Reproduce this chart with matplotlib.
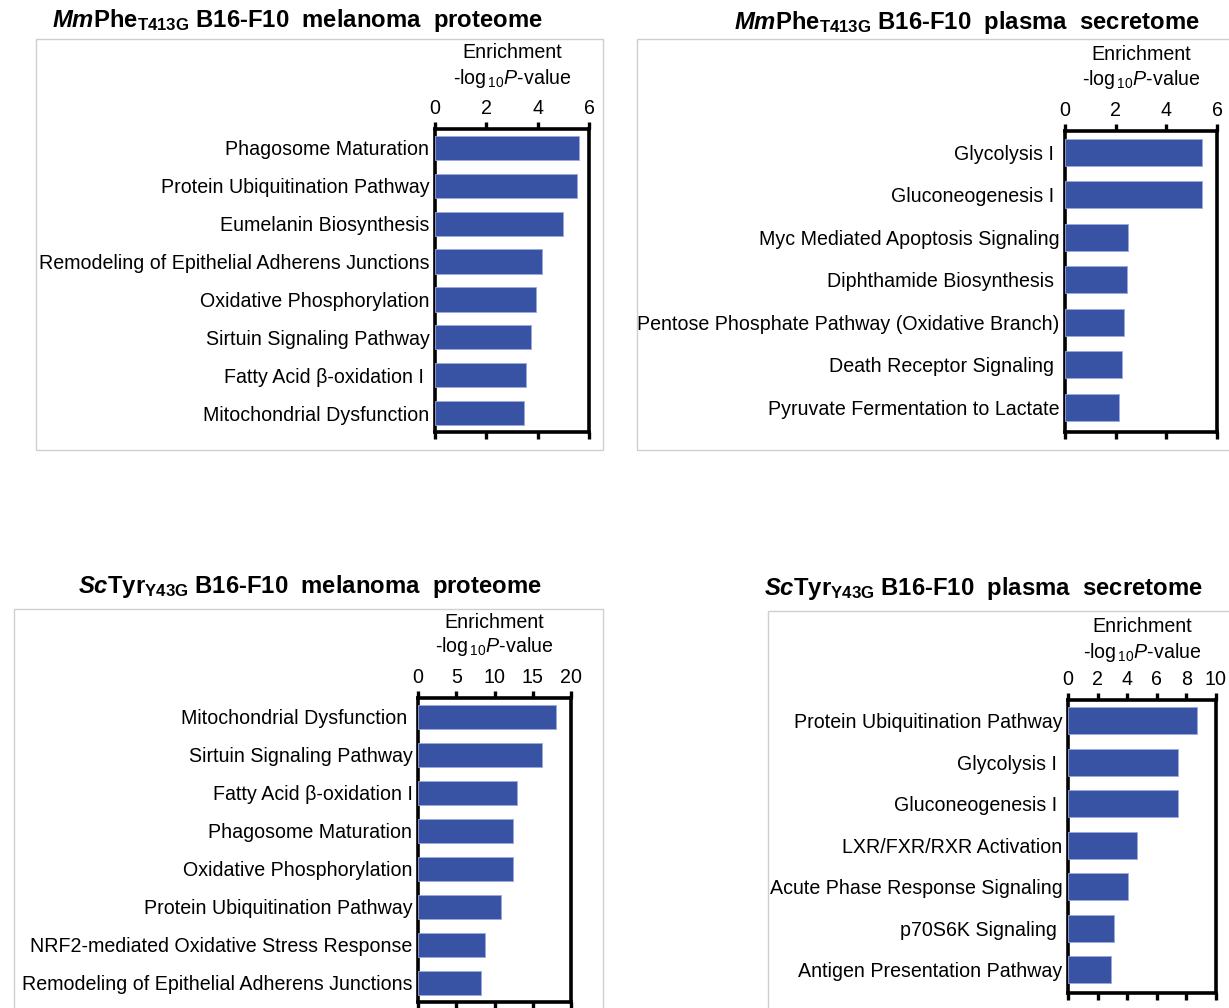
import matplotlib
matplotlib.use("Agg")
import matplotlib.pyplot as plt
from matplotlib.patches import Rectangle

plt.rcParams["font.family"] = ["Liberation Sans", "DejaVu Sans"]
plt.rcParams["mathtext.fontset"] = "custom"
plt.rcParams["mathtext.rm"] = "Liberation Sans"
plt.rcParams["mathtext.it"] = "Liberation Sans:italic"
plt.rcParams["mathtext.bf"] = "Liberation Sans:bold"
plt.rcParams["mathtext.bfit"] = "Liberation Sans:bold:italic"

# ---- data ----
mm_proteome_terms = [
    "Phagosome Maturation",
    "Protein Ubiquitination Pathway",
    "Eumelanin Biosynthesis",
    "Remodeling of Epithelial Adherens Junctions",
    "Oxidative Phosphorylation",
    "Sirtuin Signaling Pathway",
    "Fatty Acid \u03b2-oxidation I ",
    "Mitochondrial Dysfunction",
]
mm_proteome_vals = [5.60, 5.54, 5.00, 4.18, 3.94, 3.74, 3.55, 3.48]

mm_secretome_terms = [
    "Glycolysis I ",
    "Gluconeogenesis I ",
    "Myc Mediated Apoptosis Signaling",
    "Diphthamide Biosynthesis ",
    "Pentose Phosphate Pathway (Oxidative Branch)",
    "Death Receptor Signaling ",
    "Pyruvate Fermentation to Lactate",
]
mm_secretome_vals = [5.40, 5.40, 2.50, 2.44, 2.31, 2.24, 2.15]

sc_proteome_terms = [
    "Mitochondrial Dysfunction ",
    "Sirtuin Signaling Pathway",
    "Fatty Acid \u03b2-oxidation I",
    "Phagosome Maturation",
    "Oxidative Phosphorylation",
    "Protein Ubiquitination Pathway",
    "NRF2-mediated Oxidative Stress Response",
    "Remodeling of Epithelial Adherens Junctions",
]
sc_proteome_vals = [18.1, 16.2, 12.9, 12.4, 12.4, 10.9, 8.8, 8.25]

sc_secretome_terms = [
    "Protein Ubiquitination Pathway",
    "Glycolysis I ",
    "Gluconeogenesis I ",
    "LXR/FXR/RXR Activation",
    "Acute Phase Response Signaling",
    "p70S6K Signaling ",
    "Antigen Presentation Pathway",
]
sc_secretome_vals = [8.69, 7.40, 7.40, 4.63, 4.06, 3.09, 2.89]

W, H = 1229, 1008
BAR_COLOR = "#3953A4"
LABEL_SIZE = 14.1
TITLE_SIZE = 17.2
fig = plt.figure(figsize=(W / 100, H / 100), dpi=100)


def px_axes(left, top, right, bottom):
    return fig.add_axes([left / W, 1 - bottom / H, (right - left) / W, (bottom - top) / H])


def frame(left, top, right, bottom):
    fig.patches.append(Rectangle((left / W, 1 - bottom / H), (right - left) / W, (bottom - top) / H,
                                 transform=fig.transFigure, fill=False,
                                 edgecolor="#cfcfcf", linewidth=1.0, zorder=0))


def panel(box, terms, vals, xmax, xticks, ylim_bottom, title, title_xy, label_y):
    left, top, right, bottom = box
    ax = px_axes(left, top, right, bottom)
    ax.barh(range(len(terms)), vals, height=0.64, color=BAR_COLOR,
            edgecolor="#9aa8dc", linewidth=0.6, zorder=3)
    ax.set_xlim(0, xmax)
    ax.set_ylim(ylim_bottom, -0.5)
    ax.set_xticks(xticks)
    ax.set_yticks(range(len(terms)))
    ax.set_yticklabels(terms, fontsize=LABEL_SIZE)
    for s in ax.spines.values():
        s.set_linewidth(2.6)
        s.set_color("black")
    ax.tick_params(axis="x", top=True, bottom=True, labeltop=True, labelbottom=False,
                   direction="out", length=5, width=2.4, labelsize=LABEL_SIZE, pad=3)
    ax.tick_params(axis="y", length=0, pad=4)
    cx = (left + right) / 2
    fig.text(cx / W, 1 - label_y[0] / H, "Enrichment", ha="center", va="center",
             fontsize=LABEL_SIZE)
    fig.text(cx / W, 1 - label_y[1] / H, r"-log$_{\,10}$$\mathit{P}$-value",
             ha="center", va="center", fontsize=LABEL_SIZE)
    fig.text(title_xy[0] / W, 1 - title_xy[1] / H, title, ha="center", va="center",
             fontsize=TITLE_SIZE, fontweight="bold")
    return ax


# frames around each panel
frame(36, 39, 603, 450)
frame(637, 39, 1240, 450)
frame(14, 609, 603, 1020)
frame(768, 611, 1240, 1020)

panel((435, 129, 589, 432), mm_proteome_terms, mm_proteome_vals, 6, [0, 2, 4, 6], 7.5,
      r"$\mathbfit{Mm}$Phe$_{\mathbf{T413G}}$ B16-F10  melanoma  proteome", (297, 21), (52, 78))
panel((1065, 131, 1217, 432), mm_secretome_terms, mm_secretome_vals, 6, [0, 2, 4, 6], 6.58,
      r"$\mathbfit{Mm}$Phe$_{\mathbf{T413G}}$ B16-F10  plasma  secretome", (967, 23), (55, 80))
panel((418, 698, 571, 1002), sc_proteome_terms, sc_proteome_vals, 20, [0, 5, 10, 15, 20], 7.5,
      r"$\mathbfit{Sc}$Tyr$_{\mathbf{Y43G}}$ B16-F10  melanoma  proteome", (310, 587), (622, 647))
panel((1068, 700, 1216, 993), sc_secretome_terms, sc_secretome_vals, 10, [0, 2, 4, 6, 8, 10], 6.56,
      r"$\mathbfit{Sc}$Tyr$_{\mathbf{Y43G}}$ B16-F10  plasma  secretome", (983, 589), (627, 652))

fig.savefig("out.png", dpi=100)
